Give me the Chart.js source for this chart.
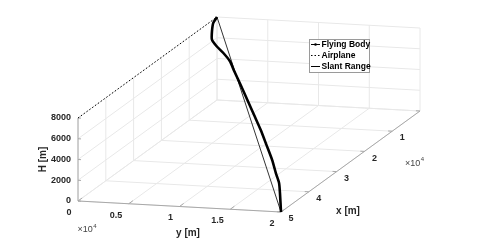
<!DOCTYPE html>
<html>
<head>
<meta charset="utf-8">
<script src="https://cdn.jsdelivr.net/npm/chart.js@4/dist/chart.umd.min.js"></script>
<style>
  html, body { margin: 0; background: #fff; }
  canvas { display: block; }
</style>
</head>
<body>
<canvas id="trajChart" width="480" height="241"></canvas>
<script>
// tick values (x and y in 1e4 m, H in m)
const xTicks = [0, 1, 2, 3, 4, 5]
const yTicks = [0, 0.5, 1, 1.5, 2]
const hTicks = [0, 2000, 4000, 6000, 8000]

// flying body trajectory
const bodyX = [0, 0.17, 0.40, 0.62, 0.78, 0.94, 1.14, 1.39, 1.74, 2.12, 2.50, 2.88, 3.26, 3.64, 3.98, 4.23, 4.49, 5]
const bodyY = [0, 0.01, 0.06, 0.12, 0.21, 0.32, 0.44, 0.55, 0.71, 0.88, 1.05, 1.22, 1.38, 1.54, 1.67, 1.77, 1.85, 2]
const bodyH = [8000, 7770, 7420, 7080, 6810, 6530, 6190, 5790, 5210, 4600, 3980, 3360, 2750, 2130, 1590, 1180, 770, 0]

// airplane
const planeX = [5, 0]
const planeY = [0, 0]
const planeH = [8000, 8000]

// slant range
const slantX = [0, 5]
const slantY = [0, 2]
const slantH = [8000, 0]

// 3d view: screen step for one unit along each axis
const view = { ox: 217, oy: 100, xx: -27.8, xy: 20.2, yx: 101.5, yy: 5.5, hy: -83 / 8000 }
const project = (x, y, h) => ({
    x: view.ox + x * view.xx + y * view.yx,
    y: view.oy + x * view.xy + y * view.yy + h * view.hy
})

const xMax = xTicks[xTicks.length - 1]
const yMax = yTicks[yTicks.length - 1]
const hMax = hTicks[hTicks.length - 1]

const seg = (a, b, style) => ({ data: [project(...a), project(...b)], ...style })
const gridStyle = { borderColor: '#e8e8e8', borderWidth: 1, order: 3 }
const axisStyle = { borderColor: '#a8a8a8', borderWidth: 1, order: 2 }

const gridSets = []
yTicks.forEach(y => {
    gridSets.push(seg([0, y, 0], [xMax, y, 0], gridStyle))
    gridSets.push(seg([0, y, 0], [0, y, hMax], gridStyle))
})
xTicks.forEach(x => {
    gridSets.push(seg([x, 0, 0], [x, yMax, 0], gridStyle))
    gridSets.push(seg([x, 0, 0], [x, 0, hMax], gridStyle))
})
hTicks.forEach(h => {
    gridSets.push(seg([0, 0, h], [0, yMax, h], gridStyle))
    gridSets.push(seg([0, 0, h], [xMax, 0, h], gridStyle))
})

const axisSets = [
    seg([xMax, 0, 0], [xMax, 0, hMax], axisStyle),
    seg([xMax, 0, 0], [xMax, yMax, 0], axisStyle),
    seg([xMax, yMax, 0], [0, yMax, 0], axisStyle)
]
yTicks.forEach(y => axisSets.push(seg([xMax, y, 0], [xMax - 0.15, y, 0], axisStyle)))
xTicks.forEach(x => axisSets.push(seg([x, yMax, 0], [x, yMax - 0.04, 0], axisStyle)))
hTicks.forEach(h => axisSets.push(seg([xMax, 0, h], [xMax, 0.03, h], axisStyle)))

const path = (xs, ys, hs) => xs.map((x, i) => project(x, ys[i], hs[i]))

const dataSets = [
    { label: 'Flying Body', data: path(bodyX, bodyY, bodyH), borderColor: '#000', borderWidth: 2.6, tension: 0.2, order: 0 },
    { label: 'Airplane', data: path(planeX, planeY, planeH), borderColor: '#000', borderWidth: 1, borderDash: [1.5, 2], order: 1 },
    { label: 'Slant Range', data: path(slantX, slantY, slantH), borderColor: '#333', borderWidth: 1, order: 1 }
]

const FONT = '"Liberation Sans", Arial, Helvetica, sans-serif'

const labelsPlugin = {
    id: 'labels3d',
    afterDraw(chart) {
        const ctx = chart.ctx
        const sx = chart.scales.x, sy = chart.scales.y
        const px = (x, y, h) => {
            const p = project(x, y, h)
            return { x: sx.getPixelForValue(p.x), y: sy.getPixelForValue(p.y) }
        }
        ctx.save()
        ctx.fillStyle = '#262626'
        ctx.font = 'bold 9px ' + FONT
        ctx.textBaseline = 'middle'

        ctx.textAlign = 'right'
        hTicks.forEach(h => {
            const p = px(xMax, 0, h)
            ctx.fillText(String(h), p.x - 7, p.y)
        })
        yTicks.forEach(y => {
            const p = px(xMax, y, 0)
            ctx.fillText(String(y), p.x - 6.5, p.y + 11.5)
        })
        ctx.textAlign = 'left'
        xTicks.filter(x => x > 0).forEach(x => {
            const p = px(x, yMax, 0)
            ctx.fillText(String(x), p.x + 7.5, p.y + 6.7)
        })

        // axis titles
        ctx.font = 'bold 10px ' + FONT
        ctx.textAlign = 'center'
        const yl = px(xMax, yMax / 2, 0)
        ctx.fillText('y [m]', yl.x + 8.5, yl.y + 26.5)
        const xl = px(xMax / 2, yMax, 0)
        ctx.fillText('x [m]', xl.x - 2.5, xl.y + 49.5)
        const hl = px(xMax, 0, hMax / 2)
        ctx.save()
        ctx.translate(hl.x - 35, hl.y)
        ctx.rotate(-Math.PI / 2)
        ctx.fillText('H [m]', 0, 0)
        ctx.restore()

        // exponent labels
        const expo = (x, y) => {
            ctx.fillStyle = '#444'
            ctx.textAlign = 'left'
            ctx.font = '9px ' + FONT
            ctx.fillText('\u00d710', x, y)
            const w = ctx.measureText('\u00d710').width
            ctx.font = '6px ' + FONT
            ctx.fillText('4', x + w + 0.5, y - 4)
        }
        const ye = px(xMax, 0, 0)
        expo(ye.x - 0.5, ye.y + 29)
        const xe = px(2, yMax, 0)
        expo(xe.x + 40.5, xe.y + 12)

        // legend
        const lx = 309.5, ly = 39.5, lw = 60, lh = 33
        ctx.fillStyle = '#fff'
        ctx.fillRect(lx, ly, lw, lh)
        ctx.strokeStyle = '#9a9a9a'
        ctx.lineWidth = 1
        ctx.strokeRect(lx, ly, lw, lh)
        ctx.font = 'bold 8.5px ' + FONT
        ctx.textAlign = 'left'
        ctx.fillStyle = '#000'
        dataSets.forEach((ds, i) => {
            const ry = ly + 5 + i * 11
            ctx.strokeStyle = '#000'
            ctx.lineWidth = 1
            ctx.setLineDash(ds.borderDash || [])
            ctx.beginPath()
            ctx.moveTo(lx + 1.5, ry)
            ctx.lineTo(lx + 10.5, ry)
            ctx.stroke()
            ctx.setLineDash([])
            if (i === 0) {
                ctx.beginPath()
                ctx.arc(lx + 6, ry, 1.3, 0, Math.PI * 2)
                ctx.fillStyle = '#000'
                ctx.fill()
            }
            ctx.fillStyle = '#000'
            ctx.fillText(ds.label, lx + 12, ry + 0.5)
        })
        ctx.restore()
    }
}

new Chart('trajChart', {
    type: 'scatter',
    data: {
        datasets: [...dataSets, ...axisSets, ...gridSets].map(ds => ({ showLine: true, pointRadius: 0, fill: false, ...ds }))
    },
    options: {
        responsive: false,
        animation: false,
        layout: { padding: 0 },
        plugins: { legend: { display: false }, tooltip: { enabled: false } },
        scales: {
            x: { type: 'linear', display: false, min: 0, max: 480 },
            y: { type: 'linear', display: false, min: 0, max: 241, reverse: true }
        }
    },
    plugins: [labelsPlugin]
})
</script>
</body>
</html>
